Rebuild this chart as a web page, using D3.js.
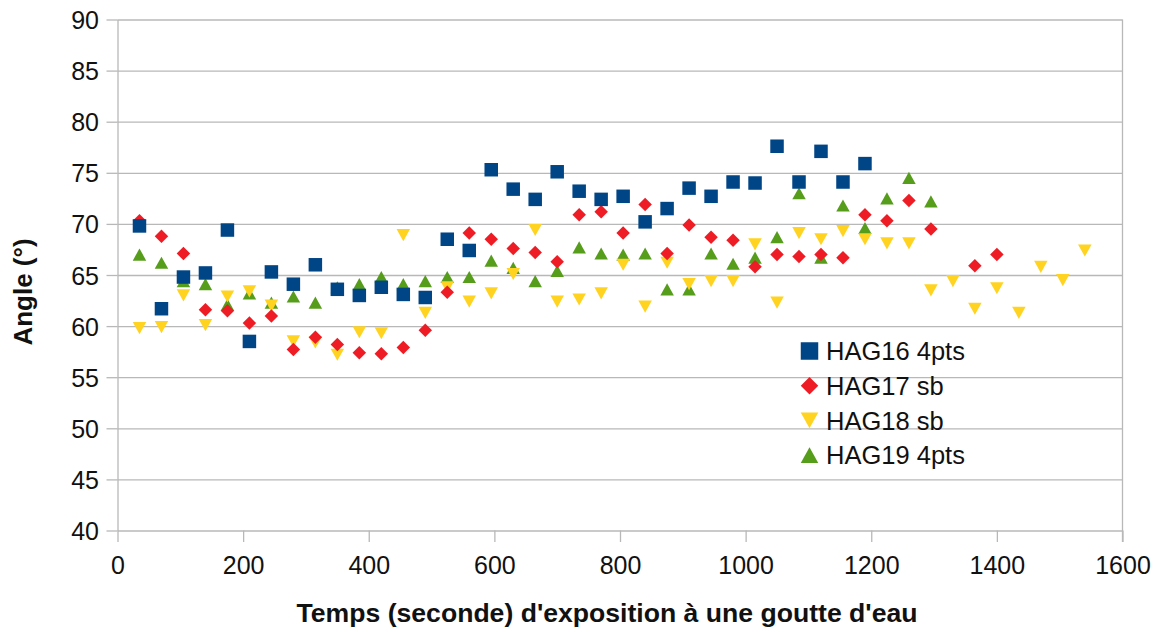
<!DOCTYPE html>
<html><head><meta charset="utf-8">
<script src="https://cdn.jsdelivr.net/npm/d3@7"></script>
<style>
body{margin:0;background:#fff}
svg{display:block}
text{font-family:"Liberation Sans",Arial,sans-serif;fill:#111}
</style>
</head><body>
<svg id="chart" width="1161" height="632"></svg>
<script>
// ---- data ----
const seriesNames = ["HAG16 4pts", "HAG17 sb", "HAG18 sb", "HAG19 4pts"];
const seriesColors = ["#004586", "#ee1d25", "#ffd320", "#579d1c"];
const seriesShapes = ["square", "diamond", "triDown", "triUp"];

const xTicks = [0, 200, 400, 600, 800, 1000, 1200, 1400, 1600];
const yTicks = [40, 45, 50, 55, 60, 65, 70, 75, 80, 85, 90];

const timesHAG16 = [35,70,105,140,175,210,245,280,315,350,385,420,455,490,525,560,595,630,665,700,735,770,805,840,875,910,945,980,1015,1050,1085,1120,1155,1190];
const anglesHAG16 = [69.8,61.7,64.8,65.2,69.4,58.5,65.3,64.1,66.0,63.6,63.0,63.8,63.1,62.8,68.5,67.4,75.3,73.4,72.4,75.1,73.2,72.4,72.7,70.2,71.5,73.5,72.7,74.1,74.0,77.6,74.1,77.1,74.1,75.9];

const timesHAG17 = [35,70,105,140,175,210,245,280,315,350,385,420,455,490,525,560,595,630,665,700,735,770,805,840,875,910,945,980,1015,1050,1085,1120,1155,1190,1225,1260,1295,1365,1400];
const anglesHAG17 = [70.3,68.8,67.1,61.6,61.5,60.3,61.0,57.7,58.9,58.2,57.4,57.3,57.9,59.6,63.3,69.1,68.5,67.6,67.2,66.3,70.9,71.2,69.1,71.9,67.1,69.9,68.7,68.4,65.8,67.0,66.8,67.0,66.7,70.9,70.3,72.3,69.5,65.9,67.0];

const timesHAG18 = [35,70,105,140,175,210,245,280,315,350,385,420,455,490,525,560,595,630,665,700,735,770,805,840,875,910,945,980,1015,1050,1085,1120,1155,1190,1225,1260,1295,1330,1365,1400,1435,1470,1505,1540];
const anglesHAG18 = [59.8,59.9,63.0,60.1,62.9,63.4,62.0,58.5,58.4,57.2,59.4,59.3,68.9,61.3,63.8,62.4,63.2,65.1,69.4,62.4,62.6,63.2,66.0,61.9,66.2,64.1,64.4,64.4,68.0,62.3,69.1,68.5,69.3,68.5,68.1,68.1,63.5,64.4,61.7,63.7,61.3,65.8,64.5,67.4];

const timesHAG19 = [35,70,105,140,175,210,245,280,315,350,385,420,455,490,525,560,595,630,665,700,735,770,805,840,875,910,945,980,1015,1050,1085,1120,1155,1190,1225,1260,1295];
const anglesHAG19 = [67.0,66.2,64.4,64.1,62.1,63.2,62.3,62.9,62.3,63.8,64.1,64.8,64.1,64.4,64.8,64.8,66.4,65.7,64.4,65.4,67.7,67.1,67.0,67.1,63.6,63.6,67.1,66.1,66.7,68.7,73.0,66.7,71.8,69.6,72.5,74.5,72.2];

const seriesTimes = [timesHAG16, timesHAG17, timesHAG18, timesHAG19];
const seriesAngles = [anglesHAG16, anglesHAG17, anglesHAG18, anglesHAG19];

// ---- layout ----
const svg = d3.select("#chart");
const M = { left: 117.5, right: 1122.5, top: 19.5, bottom: 530.5 };
const x = d3.scaleLinear().domain([0, 1600]).range([M.left, M.right]);
const y = d3.scaleLinear().domain([40, 90]).range([M.bottom, M.top]);
const grid = "#b8b8b8";
const FONT = '"Liberation Sans",Arial,sans-serif';

function shapePath(kind, s) {
  const h = s / 2;
  if (kind === "square") return `M${-h},${-h}h${s}v${s}h${-s}Z`;
  if (kind === "diamond") return `M0,${-h}L${h},0L0,${h}L${-h},0Z`;
  const th = s * 0.9, hh = th / 2;
  if (kind === "triUp") return `M0,${-hh}L${h},${hh}L${-h},${hh}Z`;
  return `M0,${hh}L${h},${-hh}L${-h},${-hh}Z`;
}

// gridlines
svg.append("g")
  .attr("transform", `translate(${M.left},0)`)
  .call(d3.axisLeft(y).tickValues(yTicks.filter(v => v > 40)).tickSize(-(M.right - M.left)).tickFormat(""))
  .call(g => g.select(".domain").remove())
  .call(g => g.selectAll("line").attr("stroke", grid).attr("stroke-width", 1.3));

// right border
svg.append("line").attr("x1", M.right).attr("x2", M.right).attr("y1", M.top).attr("y2", M.bottom + 11.5)
  .attr("stroke", grid).attr("stroke-width", 1.3);

// y axis
const yAxis = svg.append("g")
  .attr("transform", `translate(${M.left},0)`)
  .call(d3.axisLeft(y).tickValues(yTicks).tickFormat(d3.format("d")).tickSize(11).tickPadding(7.5).tickSizeOuter(0));
yAxis.select(".domain").attr("stroke", grid).attr("stroke-width", 1.3);
yAxis.selectAll("line").attr("stroke", grid).attr("stroke-width", 1.3);
yAxis.selectAll("text").attr("font-size", 25).attr("dy", "0.36em")
  .style("font-family", FONT).attr("fill", "#111");

// x axis
const xAxis = svg.append("g")
  .attr("transform", `translate(0,${M.bottom})`)
  .call(d3.axisBottom(x).tickValues(xTicks).tickFormat(d3.format("d")).tickSize(11.5).tickPadding(14).tickSizeOuter(0));
xAxis.select(".domain").attr("stroke", grid).attr("stroke-width", 1.3);
xAxis.selectAll("line").attr("stroke", grid).attr("stroke-width", 1.3);
xAxis.selectAll("text").attr("font-size", 25)
  .style("font-family", FONT).attr("fill", "#111");

// axis titles
svg.append("text").attr("x", 607).attr("y", 621.5).attr("text-anchor", "middle")
  .attr("font-size", 26.6).attr("font-weight", "bold")
  .text("Temps (seconde) d'exposition à une goutte d'eau");
svg.append("text").attr("transform", "translate(32,292) rotate(-90)").attr("text-anchor", "middle")
  .attr("font-size", 26).attr("font-weight", "bold")
  .text("Angle (°)");

// points (drawn last series first so first series sits on top)
[3, 2, 1, 0].forEach(i => {
  const pts = seriesTimes[i].map((t, k) => ({ t, v: seriesAngles[i][k] }));
  svg.append("g").selectAll("path").data(pts).join("path")
    .attr("transform", d => `translate(${x(d.t)},${y(d.v)})`)
    .attr("d", shapePath(seriesShapes[i], 13.5))
    .attr("fill", seriesColors[i]);
});

// legend
const ly = d3.scaleLinear().domain([0, 3]).range([351, 455]);
const leg = svg.append("g");
seriesNames.forEach((name, i) => {
  leg.append("path").attr("transform", `translate(809.5,${ly(i)})`)
    .attr("d", shapePath(seriesShapes[i], 17.5)).attr("fill", seriesColors[i]);
  leg.append("text").attr("x", 826).attr("y", ly(i)).attr("dy", "0.36em")
    .attr("font-size", 25.5).text(name);
});
</script>
</body></html>
